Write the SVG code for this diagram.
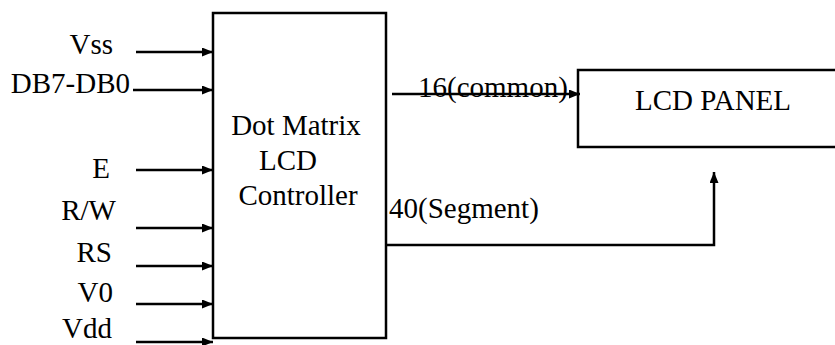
<svg xmlns="http://www.w3.org/2000/svg" width="835" height="345" viewBox="0 0 835 345" font-family="Liberation Serif, Times New Roman, serif">
<style>
text{font-family:'Liberation Serif','Times New Roman',Times,serif;font-size:29px;fill:#000}
.box{fill:#fff;stroke:#000;stroke-width:2.5}
.wire{fill:none;stroke:#000;stroke-width:2.5}
.end{text-anchor:end}
</style>
<defs>
<marker id="arr" markerUnits="userSpaceOnUse" markerWidth="12" markerHeight="10" refX="11" refY="4.5" orient="auto">
<path d="M0,0 L11,4.5 L0,9 z" fill="#000"/>
</marker>
</defs>
<rect width="835" height="345" fill="#fff"/>
<g id="controller">
<rect class="box" x="213" y="13" width="173" height="325"/>
<text x="296" y="135" text-anchor="middle">Dot Matrix</text>
<text x="288" y="170" text-anchor="middle">LCD</text>
<text x="298" y="205" text-anchor="middle">Controller</text>
</g>
<g id="lcdpanel">
<rect class="box" x="578" y="70" width="270" height="77"/>
<text x="713" y="110" text-anchor="middle">LCD PANEL</text>
</g>
<g id="labels">
<text class="end" x="113" y="54">Vss</text>
<text class="end" x="130" y="93">DB7-DB0</text>
<text class="end" x="110" y="178">E</text>
<text class="end" x="116" y="220">R/W</text>
<text class="end" x="112" y="262">RS</text>
<text class="end" x="113" y="302">V0</text>
<text class="end" x="112" y="338">Vdd</text>
<text x="418" y="97">16(common)</text>
<text x="389" y="218">40(Segment)</text>
</g>
<g id="connectors">
<line class="wire" x1="136" y1="52" x2="213" y2="52" marker-end="url(#arr)"/>
<line class="wire" x1="133" y1="90" x2="213" y2="90" marker-end="url(#arr)"/>
<line class="wire" x1="136" y1="170" x2="213" y2="170" marker-end="url(#arr)"/>
<line class="wire" x1="136" y1="228" x2="213" y2="228" marker-end="url(#arr)"/>
<line class="wire" x1="136" y1="266" x2="213" y2="266" marker-end="url(#arr)"/>
<line class="wire" x1="136" y1="304" x2="213" y2="304" marker-end="url(#arr)"/>
<line class="wire" x1="136" y1="342" x2="213" y2="342" marker-end="url(#arr)"/>
<line class="wire" x1="392" y1="94" x2="580" y2="94" marker-end="url(#arr)"/>
<polyline class="wire" points="386,245 714,245 714,172" marker-end="url(#arr)"/>
</g>
</svg>
